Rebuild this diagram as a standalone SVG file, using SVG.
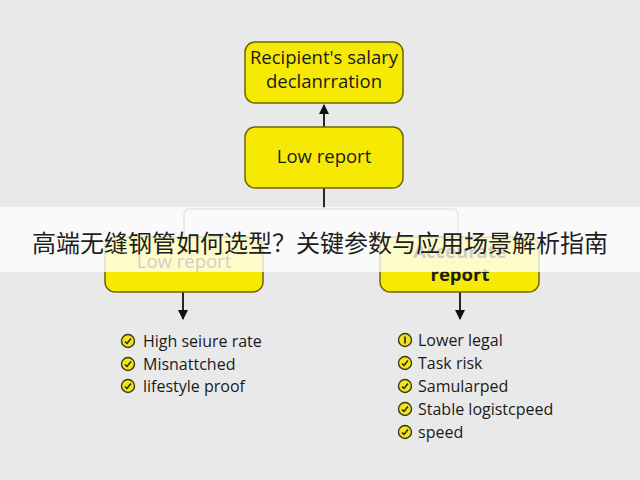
<svg xmlns="http://www.w3.org/2000/svg" width="640" height="480" viewBox="0 0 640 480">
  <defs>
    <marker id="ah2" viewBox="0 0 10 10" refX="9" refY="5" markerWidth="10" markerHeight="10" orient="auto" markerUnits="userSpaceOnUse">
      <path d="M0,0 L10,5 L0,10 z" fill="#111"/>
    </marker>
    <g id="chk">
      <circle r="6.5" fill="#f2e61a" stroke="#3a3a10" stroke-width="1.4"/>
      <path d="M-3,0.5 L-1,2.5 L3,-2.5" fill="none" stroke="#222" stroke-width="1.5"/>
    </g>
  </defs>
  <style>
    .box{fill:#f6ea05;stroke:#6f6508;stroke-width:1.5}
    .bt{font-family:"Open Sans","Noto Sans",sans-serif;font-size:18.5px;fill:#1a1a1a;text-anchor:middle}
    .li{font-family:"Open Sans","Noto Sans",sans-serif;font-size:16px;fill:#1a1a1a}
    .ln{fill:none;stroke:#111;stroke-width:1.8}
    .br{fill:none;stroke:#8a8a8a;stroke-width:1.5}
  </style>
  <rect width="640" height="480" fill="#e9e9e9"/>

  <g id="connectors">
    <line class="ln" x1="324" y1="127" x2="324" y2="105" marker-end="url(#ah2)"/>
    <line class="ln" x1="324" y1="188" x2="324" y2="209"/>
    <path class="br" d="M184,237 V215 Q184,209 190,209 H452 Q458,209 458,215 V237"/>
    <line class="ln" x1="183" y1="292" x2="183" y2="319" marker-end="url(#ah2)"/>
    <line class="ln" x1="460" y1="292" x2="460" y2="319" marker-end="url(#ah2)"/>
  </g>

  <g id="node-top">
    <rect class="box" x="245" y="42" width="158" height="61" rx="10"/>
    <text class="bt" x="324" y="64">Recipient's salary</text>
    <text class="bt" x="324" y="88">declanrration</text>
  </g>
  <g id="node-mid">
    <rect class="box" x="245" y="127" width="158" height="61" rx="10"/>
    <text class="bt" x="324" y="163">Low report</text>
  </g>
  <g id="node-left">
    <rect class="box" x="105" y="237" width="158" height="55" rx="10"/>
    <text class="bt" x="184" y="268">Low report</text>
  </g>
  <g id="node-right">
    <rect class="box" x="380" y="237" width="159" height="55" rx="10"/>
    <text class="bt" x="460" y="258" font-weight="bold" font-size="17">Acceurate</text>
    <text class="bt" x="460" y="281" font-weight="bold" font-size="17">report</text>
  </g>

  <g id="list-left">
    <use href="#chk" x="128" y="341"/>
    <text class="li" x="143" y="346.5">High seiure rate</text>
    <use href="#chk" x="128" y="364"/>
    <text class="li" x="143" y="369.5">Misnattched</text>
    <use href="#chk" x="128" y="386"/>
    <text class="li" x="143" y="391.5">lifestyle proof</text>
  </g>
  <g id="list-right">
    <circle cx="405" cy="340" r="6.5" fill="#f2e61a" stroke="#3a3a10" stroke-width="1.4"/>
    <line x1="405" y1="336.5" x2="405" y2="343.5" stroke="#222" stroke-width="1.6"/>
    <text class="li" x="418" y="345.5">Lower legal</text>
    <use href="#chk" x="405" y="363"/>
    <text class="li" x="418" y="368.5">Task risk</text>
    <use href="#chk" x="405" y="386"/>
    <text class="li" x="418" y="391.5">Samularped</text>
    <use href="#chk" x="405" y="409"/>
    <text class="li" x="418" y="414.5">Stable logistcpeed</text>
    <use href="#chk" x="405" y="432"/>
    <text class="li" x="418" y="437.5">speed</text>
  </g>

  <rect x="0" y="207" width="640" height="65" fill="#ffffff" opacity="0.78"/>
  <text x="320" y="252" font-family="'Noto Sans CJK SC',sans-serif" font-size="24" fill="#1e1e1e" text-anchor="middle">高端无缝钢管如何选型？关键参数与应用场景解析指南</text>
</svg>
